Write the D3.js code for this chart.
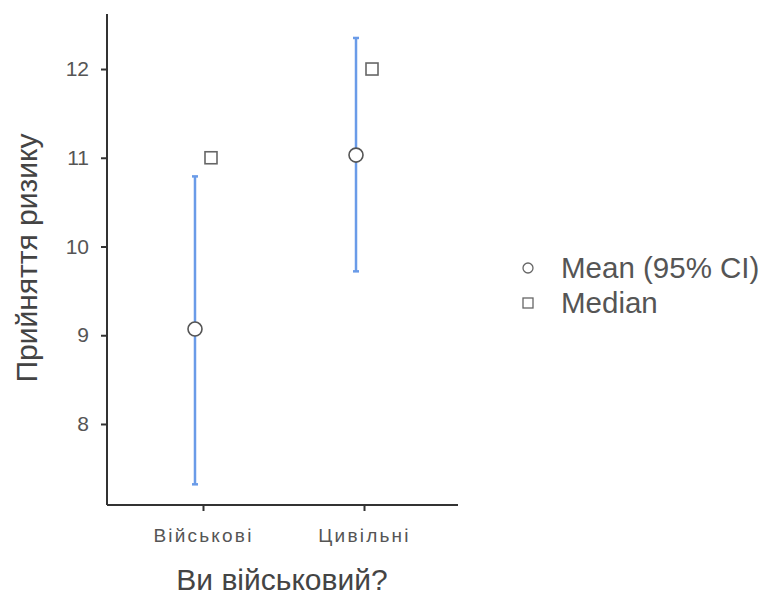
<!DOCTYPE html>
<html>
<head>
<meta charset="utf-8">
<script src="https://cdn.jsdelivr.net/npm/d3@7"></script>
<style>
  body { margin: 0; background: #fff; }
  text { font-family: "Liberation Sans", Arial, sans-serif; }
</style>
</head>
<body>
<div id="chart"></div>
<script>
// groups and stats
var groups = ["Військові", "Цивільні"];
var means = [9.07, 11.03];
var lower = [7.32, 9.72];
var upper = [10.79, 12.35];
var medians = [11, 12];
var yTicks = [8, 9, 10, 11, 12];
var legendLabels = ["Mean (95% CI)", "Median"];

var width = 776, height = 595;
var svg = d3.select("#chart").append("svg")
    .attr("width", width)
    .attr("height", height);

var x = d3.scalePoint()
    .domain(groups)
    .range([108, 459])
    .padding(0.59);

var y = d3.scaleLinear()
    .domain([7.087, 12.62])
    .range([505, 14]);

// axes
var yAxis = svg.append("g")
    .attr("transform", "translate(107,0)")
    .call(d3.axisLeft(y).tickValues(yTicks).tickFormat(d3.format("d"))
      .tickSize(6).tickPadding(12));
var xAxis = svg.append("g")
    .attr("transform", "translate(0,505)")
    .call(d3.axisBottom(x).tickSize(6).tickPadding(18).tickSizeOuter(0));

[yAxis, xAxis].forEach(function(ax) {
  ax.select(".domain").attr("stroke", "#333").attr("stroke-width", 2);
  ax.selectAll(".tick line").attr("stroke", "#333").attr("stroke-width", 2);
  ax.selectAll(".tick text")
    .attr("fill", "#555")
    .style("font-family", "Liberation Sans, Arial, sans-serif");
});
yAxis.selectAll(".tick text").attr("font-size", 21);
xAxis.selectAll(".tick text").attr("font-size", 19).attr("letter-spacing", "2.2px");
yAxis.select(".domain").attr("d", "M0,14V505");
xAxis.select(".domain").attr("d", "M107,0H458");

// error bars
var blue = "#6a9be8";
var dodge = 8;
var bars = svg.append("g");
groups.forEach(function(g, i) {
  var cx = x(g) - dodge;
  bars.append("line")
    .attr("x1", cx).attr("x2", cx)
    .attr("y1", y(lower[i])).attr("y2", y(upper[i]))
    .attr("stroke", blue).attr("stroke-width", 2.5);
  [lower[i], upper[i]].forEach(function(v) {
    bars.append("line")
      .attr("x1", cx - 3).attr("x2", cx + 3)
      .attr("y1", y(v)).attr("y2", y(v))
      .attr("stroke", blue).attr("stroke-width", 2.5);
  });
});

// mean circles
svg.selectAll("circle.mean")
  .data(means).enter()
  .append("circle")
    .attr("class", "mean")
    .attr("cx", function(d, i) { return x(groups[i]) - dodge; })
    .attr("cy", function(d) { return y(d); })
    .attr("r", 7)
    .attr("fill", "#fff")
    .attr("stroke", "#555")
    .attr("stroke-width", 1.6);

// median squares
svg.selectAll("rect.median")
  .data(medians).enter()
  .append("rect")
    .attr("class", "median")
    .attr("x", function(d, i) { return x(groups[i]) + dodge - 6; })
    .attr("y", function(d) { return y(d) - 6; })
    .attr("width", 12).attr("height", 12)
    .attr("fill", "#fff")
    .attr("stroke", "#666")
    .attr("stroke-width", 1.6);

// axis titles
svg.append("text")
  .attr("transform", "translate(37,258) rotate(-90)")
  .attr("text-anchor", "middle")
  .attr("font-size", 30)
  .attr("fill", "#444")
  .text("Прийняття ризику");

svg.append("text")
  .attr("x", 282).attr("y", 590)
  .attr("text-anchor", "middle")
  .attr("font-size", 30)
  .attr("fill", "#444")
  .text("Ви військовий?");

// legend
var legend = svg.append("g").attr("transform", "translate(528,268)");
legend.append("circle")
  .attr("cx", 0).attr("cy", 0).attr("r", 5)
  .attr("fill", "#fff").attr("stroke", "#666").attr("stroke-width", 1.3);
legend.append("rect")
  .attr("x", -5).attr("y", 30).attr("width", 10).attr("height", 10)
  .attr("fill", "#fff").attr("stroke", "#666").attr("stroke-width", 1.3);
legend.selectAll("text")
  .data(legendLabels).enter()
  .append("text")
    .attr("x", 33)
    .attr("y", function(d, i) { return 10 + i * 35; })
    .attr("font-size", 29.5)
    .attr("fill", "#555")
    .text(function(d) { return d; });
</script>
</body>
</html>
